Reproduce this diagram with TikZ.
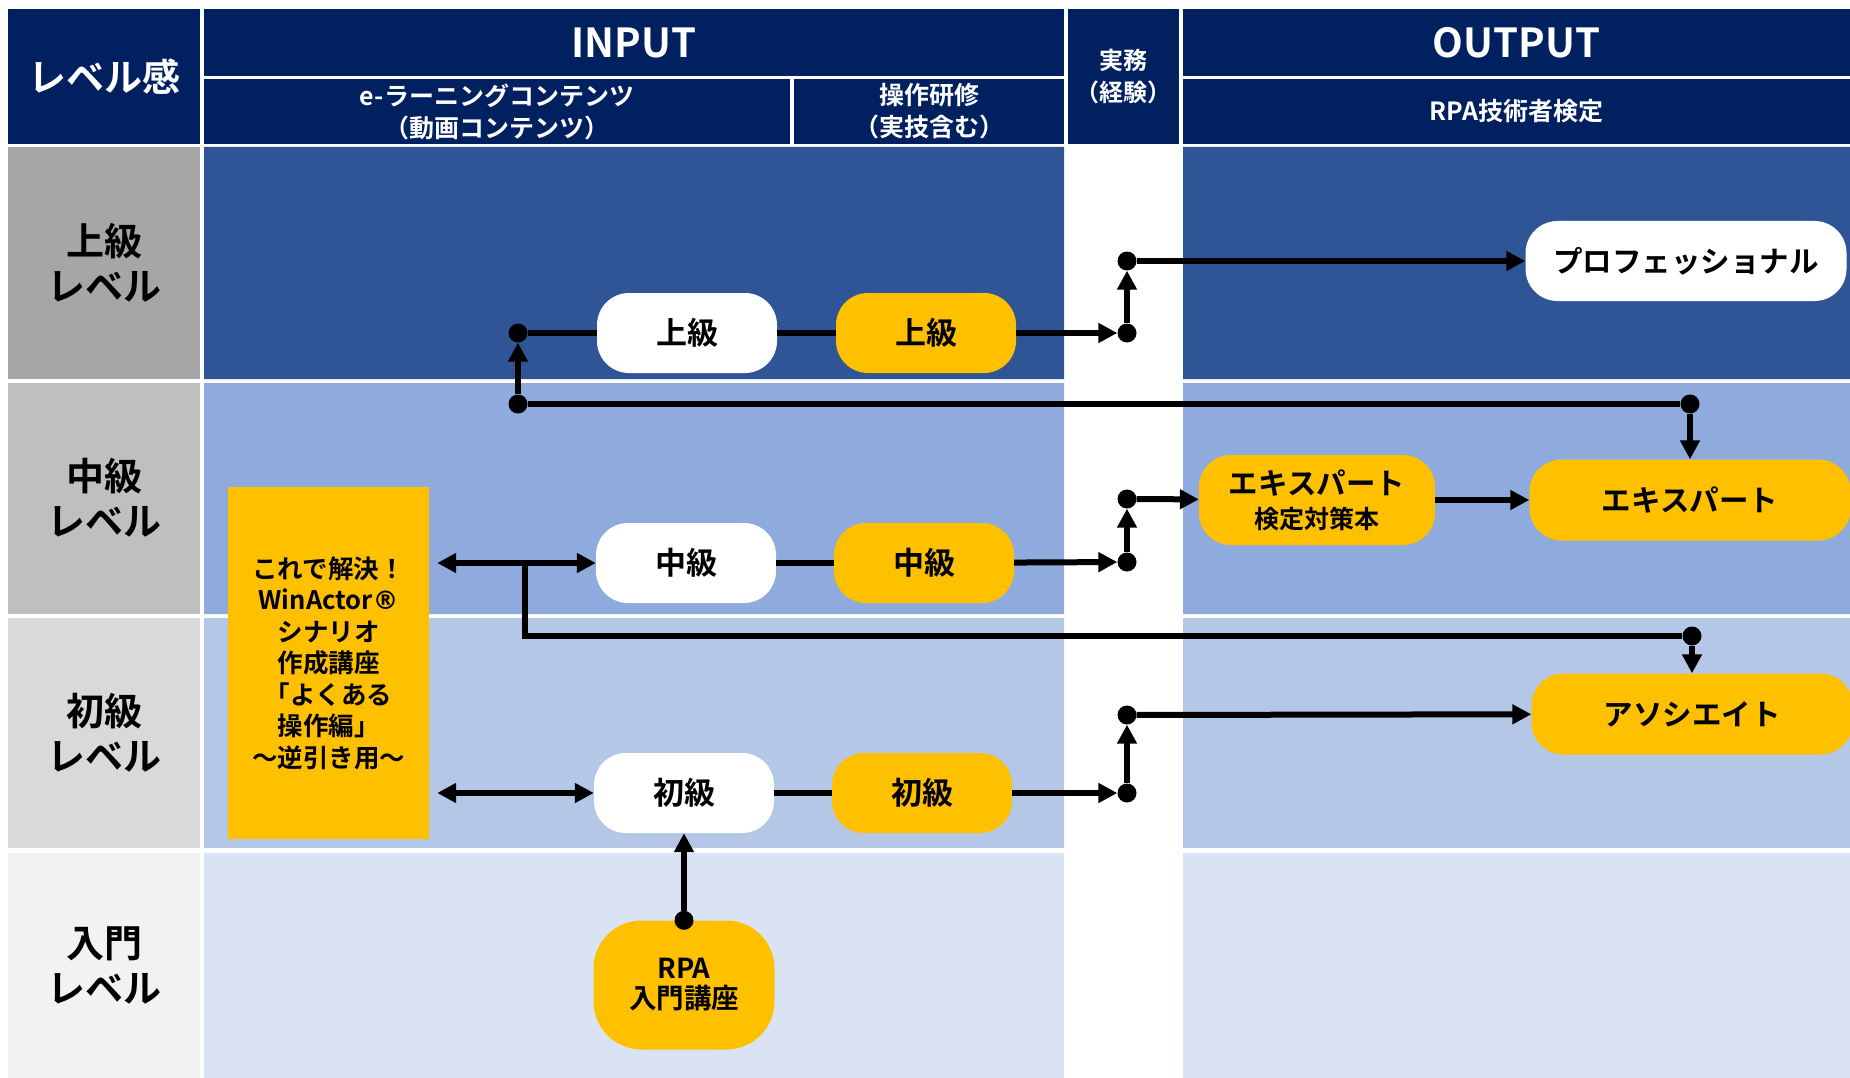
\documentclass[tikz,border=0pt]{standalone}
\usepackage{fontspec}
\setmainfont{Noto Sans CJK JP}[BoldFont={Noto Sans CJK JP Bold}]
\newfontfamily\regmark{DejaVu Sans}
\usetikzlibrary{arrows.meta}

\definecolor{navy}{HTML}{002060}
\definecolor{topblue}{HTML}{2F5597}
\definecolor{midblue}{HTML}{8FAADC}
\definecolor{lowblue}{HTML}{B4C7E7}
\definecolor{introblue}{HTML}{DAE3F3}
\definecolor{gold}{HTML}{FFC000}

\tikzset{
  headcell/.style={fill=navy, text=white, inner sep=0pt, outer sep=0pt, align=center,
    font=\bfseries\fontsize{25}{32}\selectfont},
  levellabel/.style={align=center, font=\bfseries\fontsize{38}{45}\selectfont},
  whitebox/.style={fill=white, rounded corners=32pt, minimum width=180pt, minimum height=80pt,
    inner sep=0pt, align=center, font=\bfseries\fontsize{31}{34}\selectfont},
  goldbox/.style={whitebox, fill=gold},
  joint/.style={circle, fill=black, inner sep=0pt, minimum size=19pt},
  link/.style={line width=6pt},
  arr/.style={link, -{Triangle[length=19pt,width=19pt]}},
  twoway/.style={link, {Triangle[length=19pt,width=19pt]}-{Triangle[length=19pt,width=19pt]}}
}

\begin{document}
\begin{tikzpicture}[x=1pt,y=-1pt]
\useasboundingbox (0,0) rectangle (1850,1078);

% header
\node[headcell, minimum width=192pt, minimum height=135pt, font=\bfseries\fontsize{38}{40}\selectfont]
  (lv) at (104,76.5) {レベル感};
\node[headcell, minimum width=860pt, minimum height=67pt, font=\bfseries\fontsize{40}{40}\selectfont]
  (input) at (634,42.5) {INPUT};
\node[headcell, minimum width=586pt, minimum height=65pt] (elearn) at (497,111.5)
  {e-ラーニングコンテンツ\\（動画コンテンツ）};
\node[headcell, minimum width=270pt, minimum height=65pt] (train) at (929,111.5)
  {操作研修\\（実技含む）};
\node[headcell, minimum width=111pt, minimum height=135pt, font=\bfseries\fontsize{24}{32}\selectfont]
  (work) at (1123.5,76.5) {実務\\（経験）};
\node[headcell, minimum width=667pt, minimum height=67pt, font=\bfseries\fontsize{40}{40}\selectfont]
  (output) at (1516.5,42.5) {OUTPUT};
\node[headcell, minimum width=667pt, minimum height=65pt] (exam) at (1516.5,111.5)
  {RPA技術者検定};

% rows
\fill[black!35] (8,147) rectangle (200,379);
\fill[topblue] (204,147) rectangle (1064,379) (1183,147) rectangle (1850,379);
\fill[black!25] (8,383) rectangle (200,614);
\fill[midblue] (204,383) rectangle (1064,614) (1183,383) rectangle (1850,614);
\fill[black!15] (8,618) rectangle (200,848);
\fill[lowblue] (204,618) rectangle (1064,848) (1183,618) rectangle (1850,848);
\fill[black!5] (8,853) rectangle (200,1078);
\fill[introblue] (204,853) rectangle (1064,1078) (1183,853) rectangle (1850,1078);

\node[levellabel] (lvtop) at (104,263) {上級\\レベル};
\node[levellabel] (lvmid) at (104,498) {中級\\レベル};
\node[levellabel] (lvlow) at (104,733) {初級\\レベル};
\node[levellabel] (lvintro) at (104,965) {入門\\レベル};

% boxes
\node[fill=gold, minimum width=201pt, minimum height=352pt, inner sep=0pt, align=center,
  font=\bfseries\fontsize{25.5}{31.5}\selectfont] (sol) at (328.5,663)
  {これで解決！\\WinActor{\regmark\bfseries ®}\\シナリオ\\作成講座\\「よくある\\操作編」\\～逆引き用～};
\node[whitebox] (jw) at (687,333) {上級};
\node[goldbox] (jg) at (926,333) {上級};
\node[whitebox] (cw) at (686,563) {中級};
\node[goldbox] (cg) at (924,563) {中級};
\node[whitebox] (sw) at (684,793) {初級};
\node[goldbox] (sg) at (922,793) {初級};
\node[goldbox, minimum width=181pt, minimum height=129pt, rounded corners=48pt,
  font=\bfseries\fontsize{27.5}{30}\selectfont] (rpa) at (684,985) {RPA\\入門講座};
\node[whitebox, minimum width=321pt, font=\bfseries\fontsize{29.5}{34}\selectfont] (pro) at (1686,261)
  {プロフェッショナル};
\node[goldbox, minimum width=236pt, minimum height=90pt, font=\bfseries\fontsize{29.5}{34}\selectfont]
  (book) at (1317,500) {エキスパート\\{\fontsize{25}{30}\selectfont 検定対策本}};
\node[goldbox, minimum width=321pt, minimum height=81pt, font=\bfseries\fontsize{29.5}{34}\selectfont]
  (exp) at (1690,500) {エキスパート};
\node[goldbox, minimum width=321pt, minimum height=81pt, font=\bfseries\fontsize{29.5}{34}\selectfont]
  (aso) at (1692,714) {アソシエイト};

% joints
\node[joint] (d1) at (518,333) {};
\node[joint] (d2) at (518,404) {};
\node[joint] (d3) at (1127,333) {};
\node[joint] (d4) at (1127,261) {};
\node[joint] (d5) at (1127,562) {};
\node[joint] (d6) at (1127,499) {};
\node[joint] (d7) at (1127,793) {};
\node[joint] (d8) at (1127,715) {};
\node[joint] (d9) at (1690,404) {};
\node[joint] (d10) at (1692,636) {};
\node[joint] (rd) at (rpa.north) {};
\coordinate (cj) at (525,563);

% upper
\draw[arr] (d2) -- (d1);
\draw[link] (d1) -- (jw);
\draw[link] (jw) -- (jg);
\draw[arr] (jg) -- (d3);
\draw[arr] (d3) -- (d4);
\draw[arr] (d4) -- (pro);
\draw[link] (d2) -- (d9);
\draw[arr] (d9) -- (exp);

% middle
\draw[twoway, shorten <=8pt] (sol.east |- cw) -- (cw);
\draw[link] (cj) |- (d10);
\draw[arr] (d10) -- (aso);
\draw[link] (cw) -- (cg);
\draw[arr] (cg) -- (d5);
\draw[arr] (d5) -- (d6);
\draw[arr] (d6) -- (book);
\draw[arr] (book) -- (exp);

% lower
\draw[twoway, shorten <=8pt] (sol.east |- sw) -- (sw);
\draw[link] (sw) -- (sg);
\draw[arr] (sg) -- (d7);
\draw[arr] (d7) -- (d8);
\draw[arr] (d8) -- (aso);
\draw[arr] (rd) -- (sw);
\end{tikzpicture}
\end{document}
